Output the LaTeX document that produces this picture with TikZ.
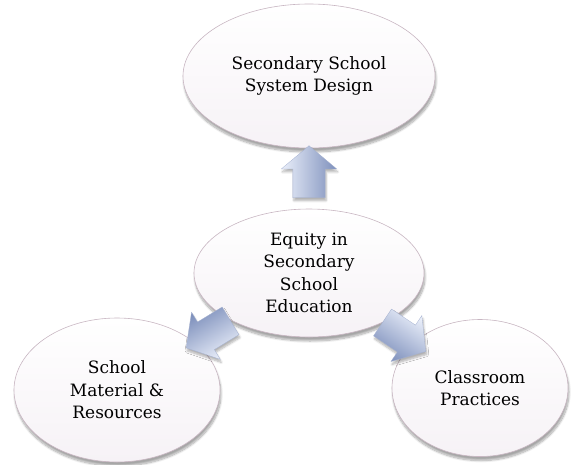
\documentclass[tikz,border=0pt]{standalone}
\usepackage{fontspec}
\setmainfont{DejaVu Serif}
\usepackage{xcolor}
\usepackage{tikz}
\usetikzlibrary{shapes.geometric,shapes.arrows,shadows.blur}
\definecolor{bubbleedge}{RGB}{200,182,194}
\definecolor{bubblepink}{RGB}{243,226,239}
\definecolor{bubblelow}{RGB}{246,242,246}
\definecolor{arrowblue}{RGB}{164,180,216}
\definecolor{arrowdark}{RGB}{126,144,188}
\definecolor{arrowlight}{RGB}{234,239,250}

\begin{document}
\begin{tikzpicture}[x=1pt, y=-1pt, every node/.style={font=\fontsize{17}{22.5}\selectfont}]
  \tikzstyle{bubble}=[ellipse, draw=bubbleedge, line width=0.6pt, inner sep=0pt, align=center,
    top color=white, middle color=bubblepink, bottom color=bubblelow,
    blur shadow={shadow xshift=1pt, shadow yshift=-4pt, shadow blur steps=10, shadow opacity=35}]
  \tikzstyle{fatarrow}=[single arrow, sloped, allow upside down, inner sep=0pt,
    minimum height=52pt, single arrow head extend=11.5pt, single arrow tip angle=100,
    draw=arrowdark!70, line width=0.3pt, shading=axis,
    top color=arrowlight, middle color=arrowblue, bottom color=arrowdark,
    blur shadow={shadow xshift=1pt, shadow yshift=-3pt, shadow blur steps=6, shadow opacity=30}]
  \useasboundingbox (0,0) rectangle (571,464);

  \node[bubble, minimum width=252pt, minimum height=144pt] (design) at (309,76) {Secondary School\\System Design};
  \node[bubble, minimum width=230pt, minimum height=128pt] (equity) at (309,273) {Equity in\\Secondary\\School\\Education};
  \node[bubble, minimum width=206pt, minimum height=144pt] (material) at (117,390) {School\\Material \&\\Resources};
  \node[bubble, minimum width=176pt, minimum height=137pt] (practice) at (480,388) {Classroom\\Practices};

  % block arrows out of the centre, light face on their left side
  \path (equity) -- node[fatarrow, shading angle=90, pos=0.5] (toDesign) {\rule{0pt}{32pt}} (design);
  \path (equity) -- node[fatarrow, shading angle=211, pos=0.47] (toMaterial) {\rule{0pt}{32pt}} (material);
  \path (equity) -- node[fatarrow, shading angle=326, pos=0.52] (toPractice) {\rule{0pt}{32pt}} (practice);
\end{tikzpicture}
\end{document}
